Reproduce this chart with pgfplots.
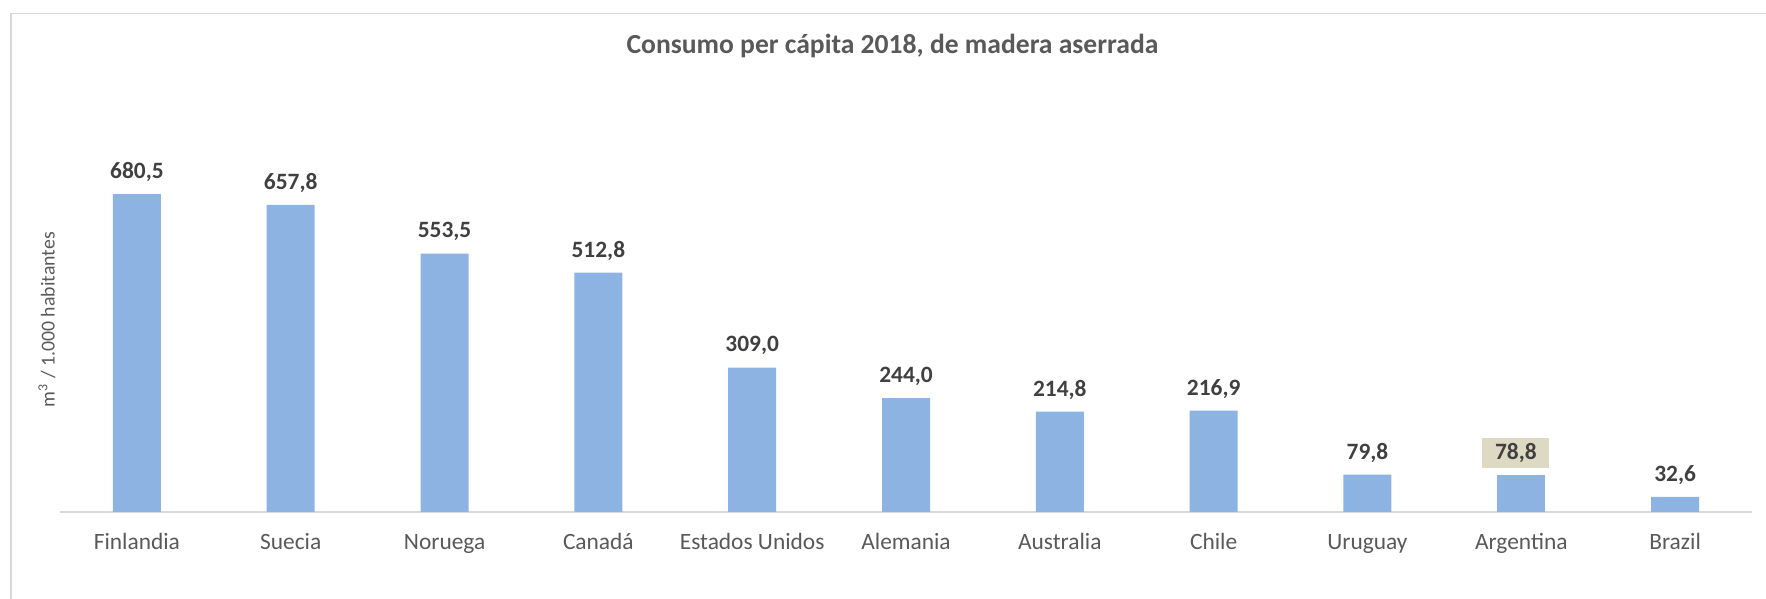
\documentclass[border=0pt]{standalone}
\usepackage{fontspec}
\setmainfont{Carlito}
\usepackage{pgfplots}
\pgfplotsset{compat=1.18}

\definecolor{barblue}{HTML}{8DB3E2}
\definecolor{tanbox}{HTML}{DDD9C3}
\definecolor{txtdark}{HTML}{404040}
\definecolor{txtgray}{HTML}{595959}
\definecolor{linegray}{HTML}{D9D9D9}

\begin{document}
\begin{tikzpicture}
% page = 1766 x 599 px, 1 px = 0.5bp
\path[use as bounding box] (0,0) rectangle (883bp,299.5bp);
\draw[linegray, line width=0.8bp] (5.35bp,-20bp) -- (5.35bp,292.8bp) -- (900bp,292.8bp);

\begin{axis}[
    at={(30bp,43.5bp)}, anchor=south west,
    scale only axis,
    width=846bp, height=186.8bp,
    xmin=-0.5, xmax=10.5,
    ymin=0, ymax=800,
    ybar, bar width=24bp, bar shift=0pt,
    axis x line=bottom, axis y line=left,
    x axis line style={linegray, line width=0.8bp, -},
    y axis line style={draw=none},
    ytick=\empty,
    xtick={0,...,10},
    xticklabels={Finlandia,Suecia,Noruega,Canadá,Estados Unidos,Alemania,Australia,Chile,Uruguay,Argentina,Brazil},
    major tick length=0pt,
    xticklabel style={font=\fontsize{11.7bp}{14bp}\selectfont, text=txtgray, anchor=base, yshift=-18.5bp},
    title={Consumo per cápita 2018, de madera aserrada},
    title style={font=\fontsize{13.8bp}{16bp}\selectfont\bfseries, text=txtgray,
        at={(axis description cs:0.492,1)}, anchor=center, yshift=40bp},
    ylabel={m\textsuperscript{3} / 1.000 habitantes},
    ylabel style={font=\fontsize{9.9bp}{12bp}\selectfont, text=txtgray,
        at={(axis description cs:-0.0077,0.515)}, anchor=center},
    nodes near coords,
    /pgf/number format/.cd, fixed, fixed zerofill, precision=1, use comma, 1000 sep={}, assume math mode=true,
    /pgfplots/.cd,
    every node near coord/.append style={font=\fontsize{11.7bp}{14bp}\selectfont\bfseries, text=txtdark, anchor=center, yshift=11bp},
]
\addplot[fill=barblue, draw=none] coordinates {
    (0,680.5) (1,657.8) (2,553.5) (3,512.8) (4,309.0)
    (5,244.0) (6,214.8) (7,216.9) (8,79.8) (10,32.6)
};
\addplot[fill=barblue, draw=none,
    every node near coord/.append style={fill=tanbox, minimum width=33.5bp, minimum height=15bp, inner sep=0pt, xshift=-2.7bp}]
    coordinates {(9,78.8)};
\end{axis}
\end{tikzpicture}
\end{document}
